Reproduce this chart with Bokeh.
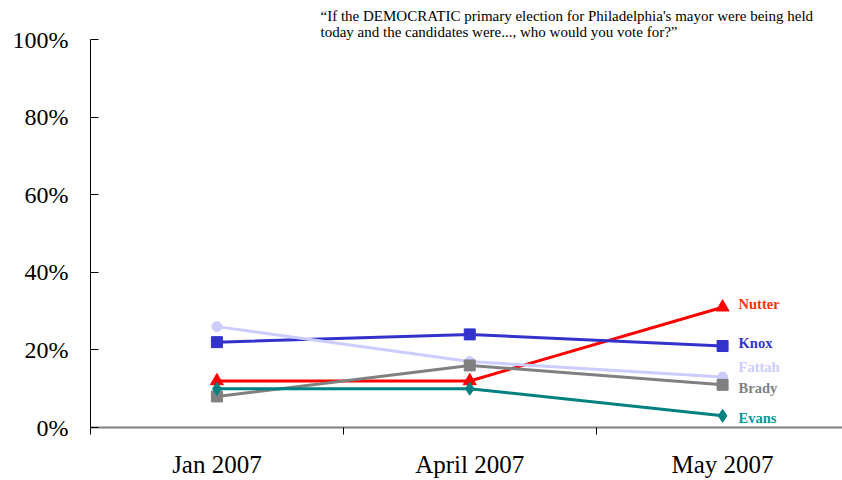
from bokeh.plotting import figure
from bokeh.models import Range1d, FixedTicker, PrintfTickFormatter, Label, ColumnDataSource, Title
from bokeh.embed import file_html
from bokeh.resources import INLINE

categories = ["Jan 2007", "April 2007", "May 2007"]
y_ticks = [0, 20, 40, 60, 80, 100]

names = ["Nutter", "Knox", "Fattah", "Brady", "Evans"]
nutter = [12, 12, 31]
knox = [22, 24, 21]
fattah = [26, 17, 13]
brady = [8, 16, 11]
evans = [10, 10, 3]

title_lines = ["\u201cIf the DEMOCRATIC primary election for Philadelphia's mayor were being held",
               "today and the candidates were..., who would you vote for?\u201d"]

series = [nutter, knox, fattah, brady, evans]
line_colors = ["#FF0000", "#3333CC", "#CCCCFF", "#808080", "#008080"]
label_colors = ["#FF3300", "#3333CC", "#CCCCFF", "#808080", "#009999"]
markers = ["triangle", "square", "circle", "square", "diamond"]
marker_sizes = [13, 11, 10, 11, 13]
label_dy = [3, 3, 10, -3, -2]

SERIF = "Liberation Serif"

p = figure(width=842, height=480, output_backend="svg", toolbar_location=None,
           x_range=Range1d(0, (842 - 89.5) / 253), y_range=Range1d(0, 100),
           min_border_left=90, min_border_top=39, min_border_bottom=51, min_border_right=0)
p.outline_line_color = None
p.xgrid.visible = False
p.ygrid.visible = False
p.background_fill_color = "white"

p.title = Title(text="\n".join(title_lines), align="left", offset=230, standoff=-2,
                text_font=SERIF, text_font_size="15px", text_font_style="normal",
                text_color="black", text_line_height=1.05)

xs = [i + 0.5 for i in range(len(categories))]

for vals, lc, mk, ms in zip(series, line_colors, markers, marker_sizes):
    src = ColumnDataSource(dict(x=xs, y=vals))
    p.line("x", "y", source=src, line_color=lc, line_width=3)
    p.scatter("x", "y", source=src, marker=mk, size=ms, fill_color=lc, line_color=lc)

for name, vals, col, dy in zip(names, series, label_colors, label_dy):
    p.add_layout(Label(x=xs[-1], y=vals[-1], x_offset=16, y_offset=dy, text=name,
                       text_color=col, text_font=SERIF, text_font_size="14.5px",
                       text_font_style="bold", text_baseline="middle", text_align="left"))

# x axis
xa = p.xaxis[0]
xa.ticker = FixedTicker(ticks=xs, minor_ticks=[0, 1, 2, 3])
xa.major_label_overrides = {x: c for x, c in zip(xs, categories)}
xa.major_tick_out = 0
xa.major_tick_in = 0
xa.minor_tick_out = 7
xa.minor_tick_in = 0
xa.minor_tick_line_color = "black"
xa.axis_line_color = "#808080"
xa.axis_line_width = 2
xa.major_label_text_font = SERIF
xa.major_label_text_font_size = "25px"
xa.major_label_text_color = "black"
xa.major_label_standoff = 16

# y axis
ya = p.yaxis[0]
ya.ticker = FixedTicker(ticks=y_ticks, minor_ticks=[])
ya.formatter = PrintfTickFormatter(format="%d%%")
ya.major_tick_in = 8
ya.major_tick_out = 0
ya.axis_line_color = "black"
ya.major_tick_line_color = "black"
ya.major_label_text_font = SERIF
ya.major_label_text_font_size = "24px"
ya.major_label_text_color = "black"
ya.major_label_standoff = 22

open("out.html", "w").write(file_html(p, INLINE))
